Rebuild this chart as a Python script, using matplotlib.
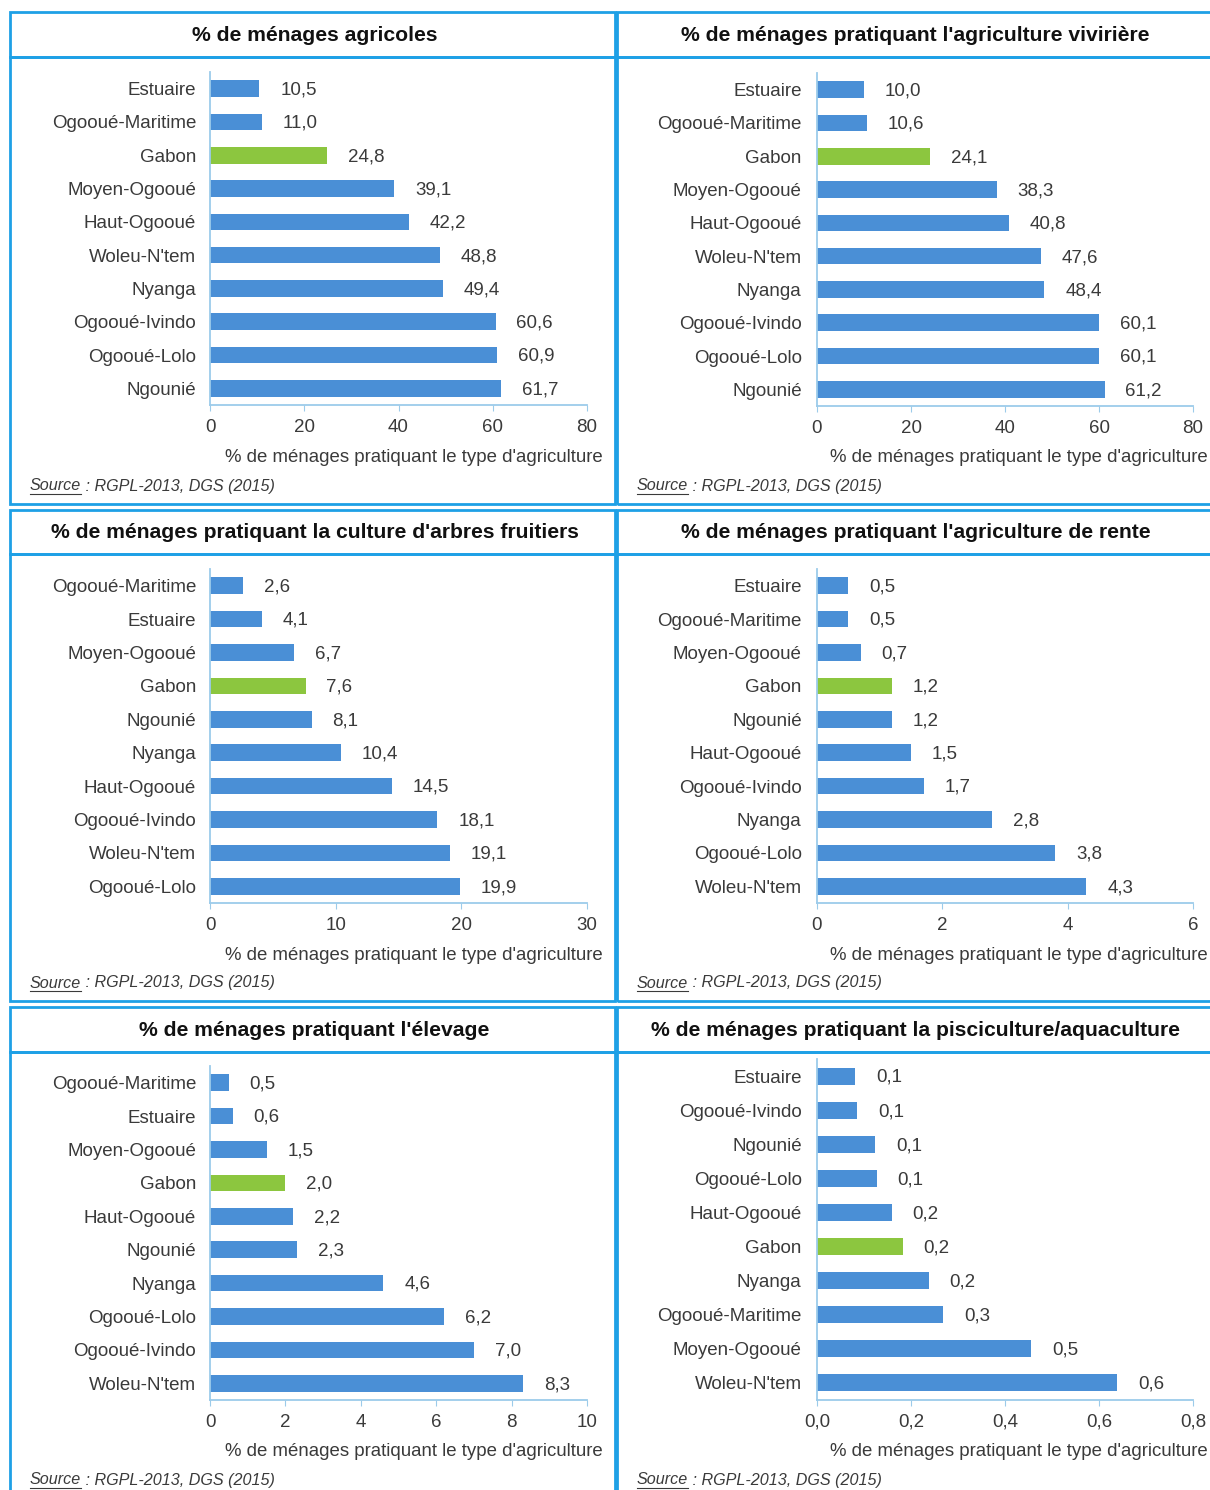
import numpy as np
import matplotlib
matplotlib.use('Agg')
import matplotlib.pyplot as plt
from matplotlib.patches import Rectangle
from matplotlib.lines import Line2D

plt.rcParams['font.family'] = ['Liberation Sans', 'DejaVu Sans']

# Data
titles = [
    "% de ménages agricoles",
    "% de ménages pratiquant l'agriculture vivirière",
    "% de ménages pratiquant la culture d'arbres fruitiers",
    "% de ménages pratiquant l'agriculture de rente",
    "% de ménages pratiquant l'élevage",
    "% de ménages pratiquant la pisciculture/aquaculture",
]

regions_agricoles = ["Estuaire", "Ogooué-Maritime", "Gabon", "Moyen-Ogooué", "Haut-Ogooué",
                     "Woleu-N'tem", "Nyanga", "Ogooué-Ivindo", "Ogooué-Lolo", "Ngounié"]
values_agricoles = [10.5, 11.0, 24.8, 39.1, 42.2, 48.8, 49.4, 60.6, 60.9, 61.7]

regions_viviere = ["Estuaire", "Ogooué-Maritime", "Gabon", "Moyen-Ogooué", "Haut-Ogooué",
                   "Woleu-N'tem", "Nyanga", "Ogooué-Ivindo", "Ogooué-Lolo", "Ngounié"]
values_viviere = [10.0, 10.6, 24.1, 38.3, 40.8, 47.6, 48.4, 60.1, 60.1, 61.2]

regions_fruitiers = ["Ogooué-Maritime", "Estuaire", "Moyen-Ogooué", "Gabon", "Ngounié",
                     "Nyanga", "Haut-Ogooué", "Ogooué-Ivindo", "Woleu-N'tem", "Ogooué-Lolo"]
values_fruitiers = [2.6, 4.1, 6.7, 7.6, 8.1, 10.4, 14.5, 18.1, 19.1, 19.9]

regions_rente = ["Estuaire", "Ogooué-Maritime", "Moyen-Ogooué", "Gabon", "Ngounié",
                 "Haut-Ogooué", "Ogooué-Ivindo", "Nyanga", "Ogooué-Lolo", "Woleu-N'tem"]
values_rente = [0.5, 0.5, 0.7, 1.2, 1.2, 1.5, 1.7, 2.8, 3.8, 4.3]

regions_elevage = ["Ogooué-Maritime", "Estuaire", "Moyen-Ogooué", "Gabon", "Haut-Ogooué",
                   "Ngounié", "Nyanga", "Ogooué-Lolo", "Ogooué-Ivindo", "Woleu-N'tem"]
values_elevage = [0.5, 0.6, 1.5, 2.0, 2.2, 2.3, 4.6, 6.2, 7.0, 8.3]

regions_pisci = ["Estuaire", "Ogooué-Ivindo", "Ngounié", "Ogooué-Lolo", "Haut-Ogooué",
                 "Gabon", "Nyanga", "Ogooué-Maritime", "Moyen-Ogooué", "Woleu-N'tem"]
values_pisci = [0.081, 0.086, 0.124, 0.127, 0.159, 0.182, 0.238, 0.269, 0.456, 0.639]

xticks_0_80 = [0, 20, 40, 60, 80]
xticks_0_30 = [0, 10, 20, 30]
xticks_0_6 = [0, 2, 4, 6]
xticks_0_10 = [0, 2, 4, 6, 8, 10]
xticks_0_08 = [0.0, 0.2, 0.4, 0.6, 0.8]

xlabel = "% de ménages pratiquant le type d'agriculture"
source = " : RGPL-2013, DGS (2015)"

# Styling
W, H = 1210, 1490
BLUE = '#4a8fd6'
GREEN = '#8cc63f'
BOX = '#1ea0e6'
AXIS = '#9ccbea'
TXT = '#3a3a3a'
FS = 13.5

fig = plt.figure(figsize=(W / 100, H / 100), dpi=100)


def fx(x):
    return x / W


def fy(y):
    return 1 - y / H


def box(x0, y0, x1, y1):
    fig.patches.append(Rectangle((fx(x0), fy(y1)), (x1 - x0) / W, (y1 - y0) / H,
                                 transform=fig.transFigure, fill=False,
                                 edgecolor=BOX, linewidth=2.0))


# column: (box x0, box x1, axes x0, axes x1, label pad, source x, xlabel right)
cols = [(10, 615, 210, 587, 10, 30, 603),
        (617, 1215, 817, 1193, 11, 637, 1208)]
# row: (title top, title bottom, box bottom)
rows = [(12, 57, 504), (510, 554, 1001), (1007, 1052, 1500)]

panels = [
    (regions_agricoles, values_agricoles, xticks_0_80, 0, 0, (72, 405), 0),
    (regions_viviere, values_viviere, xticks_0_80, 0, 1, (73, 406), 0),
    (regions_fruitiers, values_fruitiers, xticks_0_30, 1, 0, (569, 903), 0),
    (regions_rente, values_rente, xticks_0_6, 1, 1, (569, 903), 0),
    (regions_elevage, values_elevage, xticks_0_10, 2, 0, (1066, 1400), 0),
    (regions_pisci, values_pisci, xticks_0_08, 2, 1, (1059, 1400), 1),
]

for k, (regions, values, xticks, r, c, (ay0, ay1), dec) in enumerate(panels):
    bx0, bx1, ax0, ax1, lpad, srcx, xlr = cols[c]
    ty0, ty1, by1 = rows[r]
    box(bx0, ty0, bx1, ty1)
    box(bx0, ty1, bx1, by1)
    fig.text(fx((bx0 + min(bx1, 1210)) / 2 + 2), fy((ty0 + ty1) / 2 + 1), titles[k],
             ha='center', va='center', fontsize=15.2, fontweight='bold', color='#111111')

    ax = fig.add_axes([fx(ax0), fy(ay1), (ax1 - ax0) / W, (ay1 - ay0) / H])
    y = np.arange(len(regions))
    colors = [GREEN if name == 'Gabon' else BLUE for name in regions]
    ax.barh(y, values, height=0.5, color=colors)
    ax.set_ylim(len(regions) - 0.5, -0.5)
    ax.set_xlim(xticks[0], xticks[-1])
    ax.set_yticks(y, regions)
    if dec:
        ax.set_xticks(xticks, [f"{t:.1f}".replace('.', ',') for t in xticks])
    else:
        ax.set_xticks(xticks, [str(t) for t in xticks])
    ax.tick_params(axis='y', length=0, pad=lpad, labelsize=FS, labelcolor=TXT)
    ax.tick_params(axis='x', length=4, color=AXIS, pad=6, labelsize=FS, labelcolor=TXT)
    for s in ['top', 'right']:
        ax.spines[s].set_visible(False)
    for s in ['left', 'bottom']:
        ax.spines[s].set_color(AXIS)
        ax.spines[s].set_linewidth(1.3)
    ax.patch.set_alpha(0)
    for i, v in enumerate(values):
        ax.annotate(f"{v:.1f}".replace('.', ','), (v, i), xytext=(15, -1),
                    textcoords='offset points', va='center', ha='left',
                    fontsize=FS, color=TXT)

    # axis title and source
    fig.text(fx(xlr), fy(ay1 + 52), xlabel, ha='right', va='center',
             fontsize=13.4, color=TXT)
    sy = fy(by1 - 18) if r < 2 else fy(1480)
    t = fig.text(fx(srcx), sy, "Source", ha='left', va='center',
                 fontsize=11.6, style='italic', color=TXT)
    renderer = fig.canvas.get_renderer()
    bb = t.get_window_extent(renderer)
    fig.text(bb.x1 / W, sy, source, ha='left', va='center',
             fontsize=11.6, style='italic', color=TXT)
    fig.lines.append(Line2D([bb.x0 / W, bb.x1 / W], [bb.y0 / H, bb.y0 / H],
                            transform=fig.transFigure, color=TXT, linewidth=0.8))

fig.savefig('out.png', dpi=100)
